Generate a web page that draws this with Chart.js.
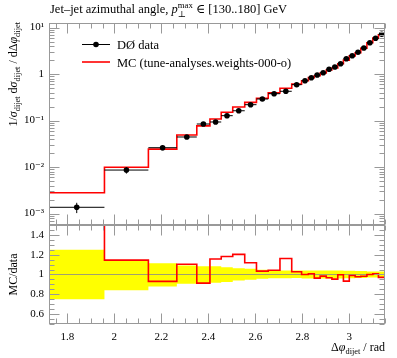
<!DOCTYPE html>
<html>
<head>
<meta charset="utf-8">
<script src="https://cdn.jsdelivr.net/npm/chart.js@4.4.1/dist/chart.umd.min.js"></script>
<style>
  html, body { margin: 0; padding: 0; background: #fff; }
  #wrap { position: relative; width: 397px; height: 358px; }
  #wrap canvas { position: absolute; left: 0; top: 0; }
</style>
</head>
<body>
<div id="wrap">
  <canvas id="ratio" width="397" height="358"></canvas>
  <canvas id="main" width="397" height="358"></canvas>
</div>
<script>
// bin edges of delta phi (rad)
const binEdges = [1.722, 1.958, 2.145, 2.266, 2.351, 2.407, 2.455, 2.504, 2.555, 2.605, 2.655,
  2.705, 2.755, 2.797, 2.826, 2.851, 2.876, 2.902, 2.926, 2.951, 2.975, 3.000, 3.025, 3.049,
  3.075, 3.100, 3.124, 3.152];

// D0 data, 1/sigma dsigma/ddphi
const dataValues = [1.36e-3, 8.6e-3, 0.0260, 0.0442, 0.0841, 0.0929, 0.127, 0.162, 0.219, 0.290,
  0.377, 0.425, 0.589, 0.718, 0.832, 0.952, 1.067, 1.262, 1.415, 1.667, 2.135, 2.476, 2.93,
  3.63, 4.71, 5.86, 7.14];
// relative data uncertainty (up / down)
const errUp = [0.25, 0.147, 0.113, 0.09, 0.083, 0.083, 0.073, 0.063, 0.057, 0.047, 0.04, 0.04,
  0.04, 0.04, 0.04, 0.04, 0.04, 0.04, 0.04, 0.04, 0.037, 0.037, 0.035, 0.035, 0.03, 0.03, 0.03];
const errDown = [0.25, 0.16, 0.12, 0.093, 0.087, 0.083, 0.077, 0.06, 0.053, 0.043, 0.037, 0.037,
  0.035, 0.04, 0.04, 0.04, 0.04, 0.04, 0.04, 0.04, 0.037, 0.037, 0.035, 0.035, 0.03, 0.03, 0.03];

// MC (tune-analyses.weights-000-o)
const mcValues = [2.80e-3, 9.85e-3, 0.0242, 0.0488, 0.0768, 0.1075, 0.150, 0.195, 0.245, 0.300,
  0.393, 0.494, 0.605, 0.718, 0.838, 0.917, 1.049, 1.220, 1.349, 1.662, 1.992, 2.451, 2.863,
  3.568, 4.71, 5.90, 6.93];

// axis ticks
const xTickValues = [1.8, 2.0, 2.2, 2.4, 2.6, 2.8, 3.0];
const logTickValues = [1e-3, 1e-2, 1e-1, 1, 10];
const ratioTickValues = [0.6, 0.8, 1.0, 1.2, 1.4];

const xMin = binEdges[0], xMax = binEdges[binEdges.length - 1];
const serif = '"Liberation Serif", "DejaVu Serif", serif';
Chart.defaults.font.family = serif;
Chart.defaults.color = '#000';

// histogram outline points (step 'before')
function histPoints(vals) {
  const pts = vals.map((v, i) => ({ x: binEdges[i], y: v }));
  pts.push({ x: binEdges[vals.length], y: vals[vals.length - 1] });
  return pts;
}

const dataPoints = dataValues.map((v, i) => ({ x: (binEdges[i] + binEdges[i + 1]) / 2, y: v }));
const errorSegments = [];
dataValues.forEach((v, i) => {
  const lo = binEdges[i], hi = binEdges[i + 1], c = (lo + hi) / 2;
  errorSegments.push({ x: lo, y: v }, { x: hi, y: v }, { x: hi, y: null });
  errorSegments.push({ x: c, y: v * (1 - errDown[i]) }, { x: c, y: v * (1 + errUp[i]) }, { x: c, y: null });
});
const ratioValues = mcValues.map((m, i) => m / dataValues[i]);

const supMap = { '-': '\u207B', '0': '\u2070', '1': '\u00B9', '2': '\u00B2', '3': '\u00B3' };
function powLabel(v) {
  const e = Math.round(Math.log10(v));
  if (e === 0) return '1';
  return '10' + String(e).split('').map(c => supMap[c]).join('');
}

// text with sub/superscripts
function richWidth(ctx, parts, size) {
  let w = 0;
  for (const [t, m, keep] of parts) {
    ctx.font = fontFor(m, size);
    if (!keep) w += ctx.measureText(t).width;
  }
  return w;
}
function fontFor(m, size) {
  const s = (m === 'sub' || m === 'sup') ? size * 0.7 : size;
  return (m === 'i' ? 'italic ' : '') + s + 'px ' + serif;
}
function drawRich(ctx, parts, x, y, size, align) {
  let cx = x;
  if (align === 'right') cx -= richWidth(ctx, parts, size);
  if (align === 'center') cx -= richWidth(ctx, parts, size) / 2;
  ctx.textAlign = 'left';
  ctx.textBaseline = 'alphabetic';
  for (const [t, m, keep] of parts) {
    ctx.font = fontFor(m, size);
    const dy = m === 'sub' ? size * 0.28 : m === 'sup' ? -size * 0.42 : 0;
    ctx.fillText(t, cx, y + dy);
    if (!keep) cx += ctx.measureText(t).width;
  }
}

// inward ticks on all four sides + frame
const frameTicks = {
  id: 'frameTicks',
  afterDatasetsDraw(chart, args, opts) {
    const { ctx, chartArea: a, scales: { x, y } } = chart;
    const L = Math.round(a.left) + 0.5, R = Math.round(a.right) - 0.5;
    const T = Math.round(a.top) + 0.5, B = Math.round(a.bottom) - 0.5;
    ctx.save();
    ctx.strokeStyle = '#999';
    ctx.lineWidth = 1;
    ctx.beginPath();
    for (let v = Math.ceil(xMin / 0.05) * 0.05; v <= xMax; v += 0.05) {
      const px = Math.round(x.getPixelForValue(v)) + 0.5;
      const major = Math.abs(v / 0.2 - Math.round(v / 0.2)) < 1e-6;
      const len = major ? 10 : 5;
      ctx.moveTo(px, B); ctx.lineTo(px, B - len);
      ctx.moveTo(px, T); ctx.lineTo(px, T + len);
    }
    const yt = [];
    if (opts.log) {
      for (let k = -4; k <= 1; k++) for (let m = 1; m <= 9; m++) yt.push([m * Math.pow(10, k), m === 1]);
    } else {
      for (let v = 0.5; v <= 1.5001; v += 0.05) yt.push([v, Math.abs(v / 0.2 - Math.round(v / 0.2)) < 1e-6]);
    }
    for (const [v, major] of yt) {
      if (v < y.min || v > y.max) continue;
      const py = Math.round(y.getPixelForValue(v)) + 0.5;
      const len = major ? 10 : 5;
      ctx.moveTo(L, py); ctx.lineTo(L + len, py);
      ctx.moveTo(R, py); ctx.lineTo(R - len, py);
    }
    ctx.stroke();
    ctx.strokeRect(L, T, R - L, B - T);
    ctx.restore();
  }
};

// titles, axis labels and legend
const labels = {
  id: 'labels',
  afterDraw(chart, args, opts) {
    const { ctx, chartArea: a } = chart;
    ctx.save();
    ctx.fillStyle = '#000';
    if (opts.main) {
      drawRich(ctx, [['Jet\u2013jet azimuthal angle, ', ''], ['p', 'i'], ['\u22A5', 'sub', 1], ['max', 'sup'],
        [' \u2208 [130..180] GeV', '']], 50, 13, 12.5, 'left');
      ctx.save();
      ctx.translate(17, a.top - 1);
      ctx.rotate(-Math.PI / 2);
      drawRich(ctx, [['1/', ''], ['\u03C3', 'i'], ['dijet', 'sub'], [' d', ''], ['\u03C3', 'i'], ['dijet', 'sub'],
        [' / d\u0394', ''], ['\u03C6', 'i'], ['dijet', 'sub']], 0, 0, 12, 'right');
      ctx.restore();
      // legend
      ctx.strokeStyle = '#000';
      ctx.lineWidth = 1;
      ctx.beginPath(); ctx.moveTo(82, 44.5); ctx.lineTo(110, 44.5); ctx.stroke();
      ctx.beginPath(); ctx.arc(96, 44.5, 2.8, 0, 2 * Math.PI); ctx.fill();
      ctx.strokeStyle = '#f00';
      ctx.lineWidth = 1.6;
      ctx.beginPath(); ctx.moveTo(82, 62); ctx.lineTo(110, 62); ctx.stroke();
      drawRich(ctx, [['D\u00D8 data', '']], 117, 48.5, 12.5, 'left');
      drawRich(ctx, [['MC (tune-analyses.weights-000-o)', '']], 117, 66.5, 12.5, 'left');
    } else {
      ctx.save();
      ctx.translate(17, (a.top + a.bottom) / 2);
      ctx.rotate(-Math.PI / 2);
      drawRich(ctx, [['MC/data', '']], 0, 0, 12, 'center');
      ctx.restore();
      drawRich(ctx, [['\u0394', ''], ['\u03C6', 'i'], ['dijet', 'sub'], [' / rad', '']], a.right, 351, 12, 'right');
    }
    ctx.restore();
  }
};

new Chart(document.getElementById('ratio'), {
  type: 'line',
  data: {
    datasets: [
      { data: histPoints(ratioValues), borderColor: '#f00', borderWidth: 1.6, pointRadius: 0, stepped: 'before', fill: false },
      { data: [{ x: xMin, y: 1 }, { x: xMax, y: 1 }], borderColor: '#a0a070', borderWidth: 1, pointRadius: 0, fill: false },
      { data: histPoints(errUp.map(e => 1 + e)), borderWidth: 0, pointRadius: 0, stepped: 'before',
        fill: '+1', backgroundColor: '#ffff00' },
      { data: histPoints(errDown.map(e => 1 - e)), borderWidth: 0, pointRadius: 0, stepped: 'before', fill: false }
    ]
  },
  options: {
    responsive: false,
    animation: false,
    layout: { padding: { left: 0, right: 12, top: 225, bottom: 0 } },
    plugins: { legend: { display: false }, tooltip: { enabled: false }, frameTicks: { log: false }, labels: { main: false } },
    scales: {
      x: {
        type: 'linear', min: xMin, max: xMax,
        afterBuildTicks: s => { s.ticks = xTickValues.map(v => ({ value: v })); },
        afterFit: s => { s.height = 34; },
        ticks: { callback: v => String(+v.toFixed(1)), padding: 7, maxRotation: 0, font: { size: 11 } },
        grid: { display: false, drawTicks: false }, border: { display: false }
      },
      y: {
        type: 'linear', min: 0.5, max: 1.5,
        afterBuildTicks: s => { s.ticks = ratioTickValues.map(v => ({ value: v })); },
        afterFit: s => { s.width = 49; },
        ticks: { callback: v => String(+v.toFixed(1)), padding: 5, font: { size: 11 } },
        grid: { display: false, drawTicks: false }, border: { display: false }
      }
    }
  },
  plugins: [frameTicks, labels]
});

new Chart(document.getElementById('main'), {
  type: 'line',
  data: {
    datasets: [
      { data: dataPoints, showLine: false, pointRadius: 2.8, pointBackgroundColor: '#000', pointBorderWidth: 0, borderColor: '#000' },
      { data: errorSegments, borderColor: '#000', borderWidth: 1, pointRadius: 0, spanGaps: false },
      { data: histPoints(mcValues), borderColor: '#f00', borderWidth: 1.6, pointRadius: 0, stepped: 'before' }
    ]
  },
  options: {
    responsive: false,
    animation: false,
    layout: { padding: { left: 0, right: 12, top: 23, bottom: 133 } },
    plugins: { legend: { display: false }, tooltip: { enabled: false }, frameTicks: { log: true }, labels: { main: true } },
    scales: {
      x: { type: 'linear', min: xMin, max: xMax, display: false },
      y: {
        type: 'logarithmic', min: 5.66e-4, max: 12.5,
        afterBuildTicks: s => { s.ticks = logTickValues.map(v => ({ value: v })); },
        afterFit: s => { s.width = 49; },
        ticks: { callback: v => powLabel(v), padding: 5, font: { size: 11 } },
        grid: { display: false, drawTicks: false }, border: { display: false }
      }
    }
  },
  plugins: [frameTicks, labels]
});
</script>
</body>
</html>
